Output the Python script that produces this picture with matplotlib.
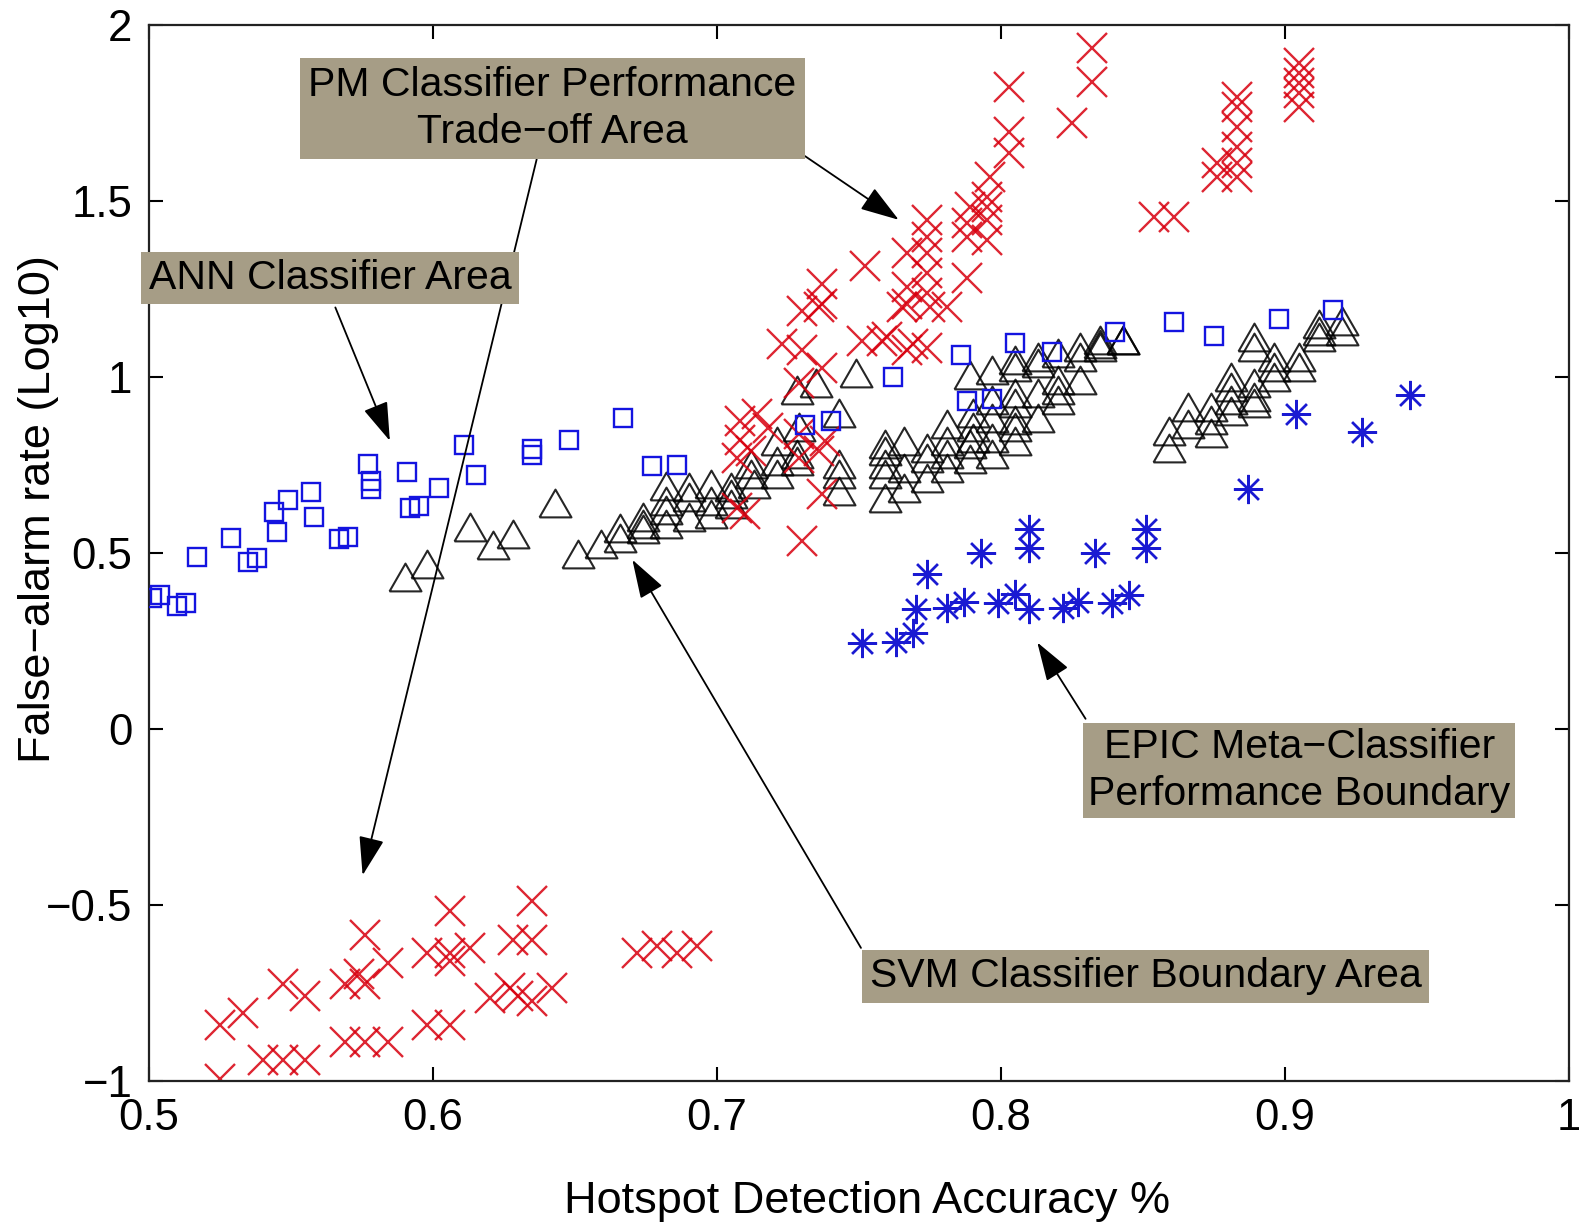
import numpy as np
import matplotlib
matplotlib.use('Agg')
import matplotlib.pyplot as plt

plt.rcParams['font.family'] = ['Liberation Sans', 'DejaVu Sans']

# ANN classifier (blue squares)
ann_x = [0.501, 0.504, 0.510, 0.513, 0.517, 0.529, 0.535, 0.538, 0.544, 0.545,
         0.549, 0.557, 0.558, 0.567, 0.570, 0.577, 0.578, 0.578, 0.591, 0.592,
         0.595, 0.602, 0.611, 0.615, 0.635, 0.635, 0.648, 0.667, 0.677, 0.686,
         0.731, 0.740, 0.762, 0.786, 0.788, 0.797, 0.805, 0.818, 0.840, 0.861,
         0.875, 0.898, 0.917]
ann_y = [0.372, 0.381, 0.350, 0.358, 0.490, 0.544, 0.476, 0.487, 0.616, 0.559,
         0.650, 0.673, 0.602, 0.539, 0.547, 0.754, 0.705, 0.682, 0.731, 0.628,
         0.633, 0.685, 0.808, 0.722, 0.797, 0.779, 0.822, 0.885, 0.748, 0.751,
         0.865, 0.874, 1.000, 1.063, 0.931, 0.937, 1.097, 1.072, 1.129, 1.158,
         1.117, 1.166, 1.192]

# SVM classifier (black triangles)
svm_x = [0.590, 0.598, 0.613, 0.621, 0.628, 0.643, 0.651, 0.659,
         0.666, 0.666, 0.674, 0.674, 0.674, 0.682, 0.682, 0.682, 0.682, 0.690,
         0.690, 0.690, 0.698, 0.698, 0.698, 0.705, 0.705, 0.705, 0.712, 0.712,
         0.713, 0.721, 0.721, 0.721, 0.728, 0.728, 0.729, 0.728, 0.735, 0.743,
         0.743, 0.743, 0.743, 0.749,
         0.789, 0.797, 0.805, 0.805, 0.813, 0.813, 0.820, 0.828, 0.828, 0.835,
         0.835, 0.843,
         0.797, 0.805, 0.805, 0.813, 0.813, 0.820, 0.820, 0.820, 0.828, 0.790,
         0.781, 0.790, 0.790, 0.797, 0.797, 0.797, 0.805, 0.805, 0.805,
         0.759, 0.759, 0.759, 0.759, 0.759, 0.766, 0.766, 0.766, 0.774, 0.774,
         0.774, 0.781, 0.781, 0.781, 0.789, 0.789,
         0.859, 0.859, 0.866, 0.866, 0.874, 0.874, 0.874, 0.881, 0.881, 0.881,
         0.881, 0.889, 0.889, 0.889, 0.896, 0.896, 0.896, 0.905, 0.905, 0.889,
         0.889, 0.912, 0.912, 0.912, 0.920, 0.920, 0.835, 0.843]
svm_y = [0.433, 0.470, 0.573, 0.524, 0.553, 0.642, 0.496, 0.527,
         0.570, 0.544, 0.602, 0.582, 0.567, 0.648, 0.622, 0.582, 0.691, 0.688,
         0.659, 0.602, 0.696, 0.648, 0.610, 0.688, 0.668, 0.639, 0.754, 0.725,
         0.696, 0.819, 0.762, 0.725, 0.782, 0.762, 0.857, 0.963, 0.983, 0.897,
         0.754, 0.725, 0.676, 1.011,
         1.006, 1.020, 1.049, 1.029, 1.057, 1.040, 1.069, 1.086, 1.057, 1.106,
         1.086, 1.106,
         0.934, 0.954, 0.926, 0.954, 0.885, 0.991, 0.963, 0.934, 0.991, 0.897,
         0.868, 0.857, 0.828, 0.885, 0.828, 0.782, 0.877, 0.857, 0.819,
         0.811, 0.791, 0.754, 0.725, 0.656, 0.819, 0.742, 0.685, 0.799, 0.771,
         0.713, 0.819, 0.782, 0.742, 0.811, 0.768,
         0.848, 0.799, 0.914, 0.868, 0.914, 0.877, 0.840, 1.000, 0.971, 0.934,
         0.905, 0.983, 0.943, 0.926, 1.057, 1.029, 1.000, 1.057, 1.029, 1.115,
         1.086, 1.152, 1.132, 1.115, 1.160, 1.132, 1.095, 1.106]

# PM classifier (red crosses)
pm_x = [0.525, 0.533, 0.547, 0.555, 0.540, 0.547, 0.555, 0.525, 0.576, 0.569,
        0.576, 0.584, 0.574, 0.569, 0.576, 0.584, 0.598, 0.606, 0.613, 0.606,
        0.606, 0.598, 0.606, 0.635, 0.628, 0.635, 0.620, 0.627, 0.635, 0.642,
        0.630, 0.672, 0.679, 0.686, 0.693,
        0.832, 0.832, 0.825, 0.803, 0.803, 0.803, 0.796, 0.795, 0.795, 0.795,
        0.795, 0.789, 0.788, 0.788, 0.788, 0.774, 0.774, 0.774, 0.774, 0.774,
        0.767, 0.767, 0.767, 0.781, 0.752, 0.737, 0.737, 0.730, 0.723, 0.730,
        0.737, 0.751, 0.758, 0.767, 0.774, 0.854, 0.861, 0.905, 0.905, 0.905,
        0.905, 0.905, 0.883, 0.883, 0.883, 0.883, 0.883, 0.883, 0.876, 0.876,
        0.736, 0.729, 0.760, 0.769, 0.765, 0.775, 0.708, 0.714, 0.718, 0.708,
        0.712, 0.707, 0.729, 0.736, 0.738, 0.729, 0.737, 0.707, 0.710, 0.730]
pm_y = [-0.840, -0.808, -0.725, -0.760, -0.940, -0.940, -0.940, -0.994, -0.585,
        -0.725, -0.725, -0.665, -0.697, -0.888, -0.888, -0.888, -0.636, -0.636,
        -0.623, -0.518, -0.660, -0.840, -0.840, -0.490, -0.599, -0.599, -0.765,
        -0.737, -0.774, -0.737, -0.760, -0.636, -0.618, -0.636, -0.618,
        1.935, 1.838, 1.722, 1.824, 1.696, 1.636, 1.568, 1.511, 1.483, 1.446,
        1.389, 1.483, 1.437, 1.397, 1.283, 1.446, 1.397, 1.352, 1.295, 1.238,
        1.352, 1.255, 1.209, 1.198, 1.317, 1.266, 1.209, 1.189, 1.095, 1.076,
        1.027, 1.104, 1.104, 1.076, 1.084, 1.454, 1.454, 1.892, 1.864, 1.835,
        1.807, 1.767, 1.796, 1.767, 1.710, 1.653, 1.608, 1.568, 1.608, 1.568,
        1.198, 0.982, 1.113, 1.095, 1.198, 1.198, 0.876, 0.896, 0.856, 0.820,
        0.791, 0.771, 0.839, 0.791, 0.819, 0.771, 0.669, 0.629, 0.612, 0.535]

# EPIC meta-classifier (blue asterisks)
epic_x = [0.751, 0.763, 0.769, 0.770, 0.774, 0.781, 0.787, 0.793, 0.799, 0.805,
          0.810, 0.810, 0.810, 0.822, 0.827, 0.833, 0.839, 0.845, 0.851, 0.851,
          0.887, 0.904, 0.927, 0.944]
epic_y = [0.245, 0.247, 0.273, 0.341, 0.441, 0.344, 0.361, 0.501, 0.358, 0.384,
          0.341, 0.569, 0.515, 0.344, 0.361, 0.501, 0.358, 0.381, 0.569, 0.515,
          0.683, 0.896, 0.845, 0.950]

x_ticks = [0.5, 0.6, 0.7, 0.8, 0.9, 1.0]
x_ticklabels = ['0.5', '0.6', '0.7', '0.8', '0.9', '1']
y_ticks = [-1, -0.5, 0, 0.5, 1, 1.5, 2]
y_ticklabels = ['\u22121', '\u22120.5', '0', '0.5', '1', '1.5', '2']

box_color = '#a69d86'
tri = [(-1.15, -1.0), (1.15, -1.0), (0.0, 1.0), (-1.15, -1.0)]

fig = plt.figure(figsize=(15.79, 12.24), dpi=100)
ax = fig.add_axes([0.0944, 0.1169, 0.8992, 0.8625])

ax.plot(svm_x, svm_y, linestyle='none', marker=tri, markersize=23,
        mfc='none', mec='k', mew=1.5, alpha=0.85, zorder=2)
ax.plot(pm_x, pm_y, linestyle='none', marker='x', markersize=21,
        mec='#d8000f', mew=1.7, alpha=0.85, zorder=2)
ax.plot(ann_x, ann_y, linestyle='none', marker='s', markersize=12.5,
        mfc='none', mec='#1414e0', mew=1.7, zorder=3)
ax.plot(epic_x, epic_y, linestyle='none', marker=(8, 2, 0), markersize=21,
        mec='#1a1ad2', mew=1.7, zorder=3)

ax.set_xlim(0.5, 1.0)
ax.set_ylim(-1, 2)
ax.set_xticks(x_ticks)
ax.set_xticklabels(x_ticklabels)
ax.set_yticks(y_ticks)
ax.set_yticklabels(y_ticklabels)
ax.tick_params(direction='in', length=10, width=1.5, labelsize=31.5,
               top=True, right=True, pad=12)
for sp in ax.spines.values():
    sp.set_linewidth(1.6)
    sp.set_color('#222222')

ax.text(0.506, -0.114, 'Hotspot Detection Accuracy %', transform=ax.transAxes,
        ha='center', va='center', fontsize=32.5)
ax.text(-0.078, 0.542, 'False\u2212alarm rate (Log10)', transform=ax.transAxes,
        ha='center', va='center', rotation=90, fontsize=32.5)

arrow_kw = dict(arrowstyle='-|>,head_length=1.1,head_width=0.36', color='k',
                lw=1.3, mutation_scale=22, shrinkA=0, shrinkB=0)

# arrows (start -> tip)
arrows = [
    ((0.731, 1.628), (0.764, 1.447)),
    ((0.6365, 1.619), (0.5752, -0.4155)),
    ((0.5656, 1.198), (0.5848, 0.819)),
    ((0.7507, -0.622), (0.6702, 0.481)),
    ((0.8298, 0.029), (0.8128, 0.246)),
]
for start, tip in arrows:
    ax.annotate('', xy=tip, xytext=start, arrowprops=arrow_kw, zorder=4)

labels = [
    ('PM Classifier Performance\nTrade\u2212off Area', 0.642, 1.764, 0.2),
    ('ANN Classifier Area', 0.5637, 1.282, 0.18),
    ('EPIC Meta\u2212Classifier\nPerformance Boundary', 0.905, -0.117, 0.12),
    ('SVM Classifier Boundary Area', 0.851, -0.703, 0.18),
]
for txt, tx, ty, pad in labels:
    ax.text(tx, ty, txt, ha='center', va='center', fontsize=29.5,
            linespacing=1.3, zorder=5,
            bbox=dict(boxstyle='square,pad=%.2f' % pad, fc=box_color, ec='none'))

fig.savefig('out.png', dpi=100)
